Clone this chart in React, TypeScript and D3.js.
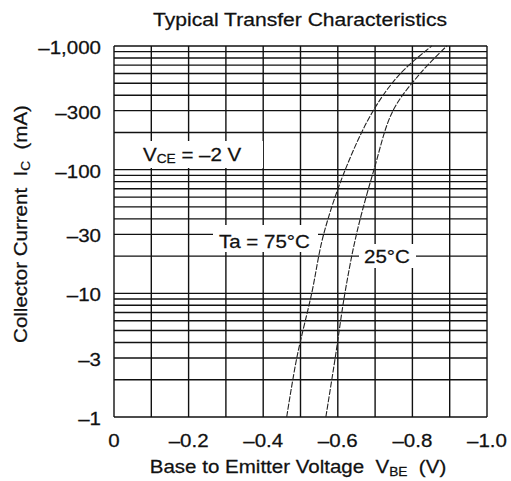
import * as d3 from 'd3';

const W = 511;
const H = 481;
const plot = { left: 114, right: 487, top: 46, bottom: 417 };

// collector current |Ic| in mA, and |Vbe| in V
const current = [1, 3, 10, 30, 100, 300, 600, 1000];
const vbe75 = [0.463, 0.49, 0.53, 0.562, 0.62, 0.695, 0.768, 0.852];
const vbe25 = [0.568, 0.593, 0.619, 0.65, 0.697, 0.748, 0.821, 0.892];

const xTickValues = [0, 0.2, 0.4, 0.6, 0.8, 1.0];
const xTickLabels = ['0', '–0.2', '–0.4', '–0.6', '–0.8', '–1.0'];
const yTickValues = [1, 3, 10, 30, 100, 300, 1000];
const yTickLabels = ['–1', '–3', '–10', '–30', '–100', '–300', '–1,000'];

const font = '"Liberation Sans", Arial, sans-serif';
const sx = 1.14;
const sp = '\u00a0';

function Txt(props: {
  x: number;
  y: number;
  size: number;
  anchor?: string;
  rotate?: number;
  children: any;
}) {
  const { x, y, size, anchor = 'start', rotate = 0, children } = props;
  return (
    <text
      transform={`translate(${x},${y}) rotate(${rotate}) scale(${sx},1)`}
      fontSize={size}
      fontFamily={font}
      textAnchor={anchor}
      fill="#111"
      stroke="#111"
      strokeWidth={0.25}
    >
      {children}
    </text>
  );
}

export default function App() {
  const x = d3.scaleLinear().domain([0, 1]).range([plot.left, plot.right]);
  const y = d3.scaleLog().domain([1, 1000]).range([plot.bottom, plot.top]);

  const vGrid = d3.range(0, 11).map((d) => d / 10);
  const hGrid = y.ticks();

  const line = (v: number[]) =>
    d3
      .line<number>()
      .x((_, i) => x(v[i]))
      .y((d) => y(d))
      .curve(d3.curveCatmullRom)(current) || '';

  return (
    <svg
      width={W}
      height={H}
      style={{ position: 'absolute', left: 0, top: 0, background: '#fff' }}
    >
      <g stroke="#111" strokeWidth={1.4}>
        {vGrid.map((v) => (
          <line key={'v' + v} x1={x(v)} x2={x(v)} y1={plot.top} y2={plot.bottom} />
        ))}
        {hGrid.map((v) => (
          <line key={'h' + v} x1={plot.left} x2={plot.right} y1={y(v)} y2={y(v)} />
        ))}
      </g>

      <g fill="none" stroke="#222" strokeWidth={1.1} strokeDasharray="6,1.5">
        <path d={line(vbe75)} />
        <path d={line(vbe25)} />
      </g>

      {/* label backgrounds */}
      <rect x={139} y={141} width={124} height={27} fill="#fff" />
      <rect x={213} y={225} width={105} height={27} fill="#fff" />
      <rect x={359} y={244} width={57} height={24} fill="#fff" />

      <Txt x={143} y={161} size={18}>
        V<tspan fontSize={12} dy={2}>CE</tspan>
        <tspan dy={-2}> = –2 V</tspan>
      </Txt>
      <Txt x={219} y={248} size={18}>
        Ta = 75°C
      </Txt>
      <Txt x={364} y={263} size={18}>
        25°C
      </Txt>

      <Txt x={300} y={26} size={18.5} anchor="middle">
        Typical Transfer Characteristics
      </Txt>

      {yTickValues.map((v, i) => (
        <Txt key={'yl' + v} x={101} y={y(v) + 8} size={18} anchor="end">
          {yTickLabels[i]}
        </Txt>
      ))}
      {xTickValues.map((v, i) => (
        <Txt key={'xl' + v} x={x(v)} y={447} size={18} anchor="middle">
          {xTickLabels[i]}
        </Txt>
      ))}

      <Txt x={298} y={473} size={18} anchor="middle">
        {'Base to Emitter Voltage' + sp + sp + 'V'}
        <tspan fontSize={12} dy={3}>BE</tspan>
        <tspan dy={-3}>{sp + sp + '(V)'}</tspan>
      </Txt>
      <Txt x={27} y={224} size={18} anchor="middle" rotate={-90}>
        {'Collector Current' + sp + sp + 'I'}
        <tspan fontSize={12} dy={3}>C</tspan>
        <tspan dy={-3}>{sp + sp + '(mA)'}</tspan>
      </Txt>
    </svg>
  );
}
